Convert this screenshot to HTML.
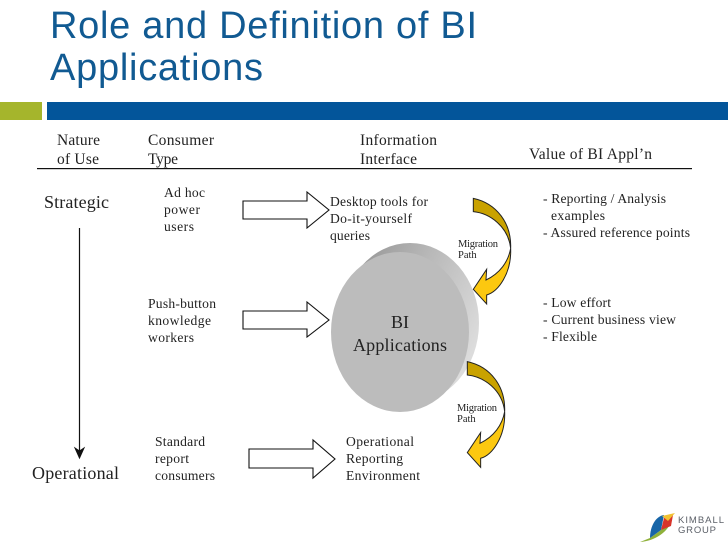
<!DOCTYPE html>
<html><head><meta charset="utf-8"><style>
html,body{margin:0;padding:0;background:#fff}
svg{display:block}
text{font-family:"Liberation Serif",serif;fill:#222}
.b{font-size:13.6px}.h{font-size:15.5px}.l{font-size:18px}.m{font-size:10.5px}
.t{font-family:"Liberation Sans",sans-serif;font-size:38px;fill:#115a92}
.k{font-family:"Liberation Sans",sans-serif;font-size:9.5px;fill:#5c6068}
</style></head><body>
<svg width="728" height="546" viewBox="0 0 728 546" xmlns="http://www.w3.org/2000/svg">
<defs>
<linearGradient id="bk" x1="0" y1="0" x2="1" y2="0.6"><stop offset="0" stop-color="#8c8c8c"/><stop offset="0.5" stop-color="#b8b8b8"/><stop offset="1" stop-color="#dcdcdc"/></linearGradient>
<g id="curve">
<path d="M460 55C530 70 575 130 572 205C565 140 510 100 460 95Z" fill="#c9a200"/>
<path d="M572 205C575 280 535 335 500 345V372L460 328L500 268L498 300C540 280 565 245 572 205Z" fill="#fcc810"/>
<path d="M460 55C530 70 575 130 572 205C575 280 535 335 500 345V372L460 328L500 268L498 300C540 280 565 245 572 205C565 140 510 100 460 95Z" fill="none" stroke="#222" stroke-width="3"/>
</g>
</defs>
<rect width="728" height="546" fill="#fff"/>
<text class="t" x="50" y="38" textLength="427" lengthAdjust="spacing">Role and Definition of BI</text>
<text class="t" x="50" y="80" textLength="213" lengthAdjust="spacing">Applications</text>
<rect x="0" y="102" width="42" height="18" fill="#a5b52c"/>
<rect x="47" y="102" width="681" height="18" fill="#03559a"/>
<rect x="37" y="168" width="655" height="1.2" fill="#111"/>

<text class="h" x="57" y="145" textLength="43">Nature</text>
<text class="h" x="57" y="164" textLength="42">of Use</text>
<text class="h" x="148" y="145" textLength="66">Consumer</text>
<text class="h" x="148" y="164" textLength="30">Type</text>
<text class="h" x="360" y="145" textLength="77">Information</text>
<text class="h" x="360" y="164" textLength="57">Interface</text>
<text class="h" x="529" y="159" textLength="123">Value of BI Appl’n</text>

<text class="l" x="44" y="208" textLength="65">Strategic</text>
<text class="l" x="32" y="479" textLength="87">Operational</text>
<path d="M79.5 228V456" stroke="#111" stroke-width="1.2" fill="none"/>
<path d="M79.5 458L75 448L79.5 451L84 448Z" fill="#111" stroke="#111"/>

<text class="b" x="164" y="197" textLength="41">Ad hoc</text>
<text class="b" x="164" y="214" textLength="36">power</text>
<text class="b" x="164" y="231" textLength="30">users</text>
<text class="b" x="148" y="308" textLength="68">Push-button</text>
<text class="b" x="148" y="325" textLength="63">knowledge</text>
<text class="b" x="148" y="342" textLength="46">workers</text>
<text class="b" x="155" y="446" textLength="50">Standard</text>
<text class="b" x="155" y="463" textLength="34">report</text>
<text class="b" x="155" y="480" textLength="60">consumers</text>

<g fill="#fff" stroke="#111" stroke-width="1.1">
<path d="M243 201H307V192L329 210L307 228V219H243Z"/>
<path d="M243 311H307V302L329 320L307 337V329H243Z"/>
<path d="M249 449H313V440L335 459L313 478V468H249Z"/>
</g>

<text class="b" x="330" y="206" textLength="98">Desktop tools for</text>
<text class="b" x="330" y="223" textLength="82">Do-it-yourself</text>
<text class="b" x="330" y="240" textLength="40">queries</text>
<text class="b" x="346" y="446" textLength="68">Operational</text>
<text class="b" x="346" y="463" textLength="57">Reporting</text>
<text class="b" x="346" y="480" textLength="74">Environment</text>

<ellipse cx="410" cy="323" rx="69" ry="80" fill="url(#bk)"/>
<ellipse cx="400" cy="332" rx="69" ry="80" fill="#bcbcbc"/>
<text class="l" x="400" y="328" text-anchor="middle">BI</text>
<text class="l" x="400" y="351" text-anchor="middle" textLength="94">Applications</text>

<g transform="translate(320 180) scale(.3333)"><use href="#curve"/></g>
<g transform="translate(314 343.3) scale(.3333)"><use href="#curve"/></g>
<text class="m" x="458" y="247" textLength="40">Migration</text>
<text class="m" x="458" y="258">Path</text>
<text class="m" x="457" y="411" textLength="40">Migration</text>
<text class="m" x="457" y="422">Path</text>

<text class="b" x="543" y="203" textLength="123">- Reporting / Analysis</text>
<text class="b" x="551" y="220" textLength="54">examples</text>
<text class="b" x="543" y="237" textLength="147">- Assured reference points</text>
<text class="b" x="543" y="307" textLength="68">- Low effort</text>
<text class="b" x="543" y="324" textLength="133">- Current business view</text>
<text class="b" x="543" y="341" textLength="54">- Flexible</text>

<path d="M640 542C655 541 668 532 672 520L661 530L650 538Z" fill="#8fb13a"/>
<path d="M650 538C650 526 656 516 664 515L661 530Z" fill="#1765a8"/>
<path d="M664 518L673 515L671 526L661 530Z" fill="#d8342a"/>
<path d="M662 516L675 513L668 521Z" fill="#f1c232"/>
<text class="k" x="678" y="523" textLength="46">KIMBALL</text>
<text class="k" x="678" y="533" textLength="38">GROUP</text>
</svg>
</body></html>
